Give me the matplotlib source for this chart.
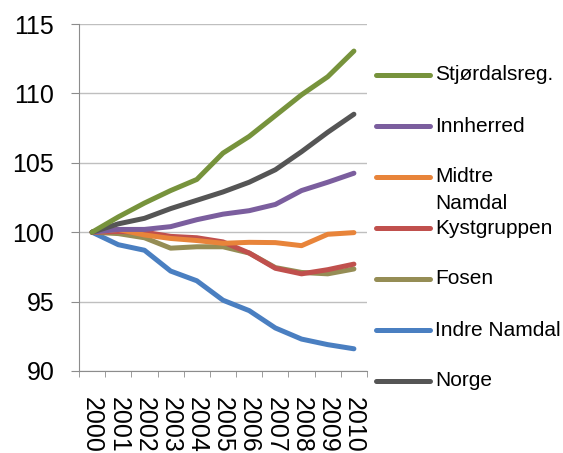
import numpy as np
import matplotlib.pyplot as plt
from matplotlib.lines import Line2D

plt.rcParams['font.family'] = ['Liberation Sans', 'DejaVu Sans']

# data
years = [str(y) for y in range(2000, 2011)]
stjordal = [100, 101.1, 102.1, 103.0, 103.8, 105.7, 106.9, 108.4, 109.9, 111.2, 113.05]
innherred = [100, 100.2, 100.2, 100.4, 100.9, 101.3, 101.55, 102.0, 103.0, 103.6, 104.25]
midtre = [100, 100.2, 99.8, 99.55, 99.4, 99.2, 99.27, 99.25, 99.03, 99.85, 99.97]
kyst = [100, 100.05, 100.0, 99.7, 99.6, 99.3, 98.5, 97.4, 97.0, 97.3, 97.7]
fosen = [100, 99.9, 99.6, 98.85, 98.95, 98.95, 98.5, 97.45, 97.1, 97.0, 97.35]
indre = [100, 99.1, 98.7, 97.2, 96.5, 95.1, 94.35, 93.1, 92.3, 91.9, 91.6]
norge = [100, 100.6, 101.0, 101.7, 102.3, 102.9, 103.6, 104.5, 105.8, 107.2, 108.5]

names = ['Stjørdalsreg.', 'Innherred', 'Midtre\nNamdal', 'Kystgruppen',
         'Fosen', 'Indre Namdal', 'Norge']
series = [stjordal, innherred, midtre, kyst, fosen, indre, norge]
colors = ['#77933C', '#7B5E9E', '#E8843A', '#C0504D', '#958D55', '#4A7FC1', '#555555']

W, H = 563, 453
fig = plt.figure(figsize=(W / 100, H / 100), dpi=100)
ax = fig.add_axes([79 / W, 1 - 371 / H, (367 - 79) / W, (371 - 24) / H])

x = np.arange(len(years))
# draw back-to-front so green/grey sit on top like the original
for i in [5, 4, 3, 2, 1, 6, 0]:
    ax.plot(x, series[i], color=colors[i], lw=3.6, solid_capstyle='round')

ax.set_xlim(-0.5, 10.5)
ax.set_ylim(90, 115)
ax.set_yticks([90, 95, 100, 105, 110, 115])
ax.yaxis.grid(True, color='#BFBFBF', lw=1)
ax.set_axisbelow(True)
for s in ['top', 'right']:
    ax.spines[s].set_visible(False)
for s in ['left', 'bottom']:
    ax.spines[s].set_color('#8C8C8C')
ax.tick_params(axis='y', labelsize=18, length=5.8, color='#8C8C8C', pad=12)

ax.set_xticks(x)
ax.set_xticklabels(years, rotation=270, fontsize=18, va='top', ha='center')
ax.tick_params(axis='x', length=0, pad=18.5)
ax.set_xticks(np.arange(-0.5, 11, 1), minor=True)
ax.tick_params(axis='x', which='minor', length=4, color='#8C8C8C')

# legend on the right, drawn by hand so the two-line label sits like Excel's
y0 = 75
for i, name in enumerate(names):
    yy = 1 - (y0 + 51 * i) / H
    fig.add_artist(Line2D([376 / W, 430 / W], [yy, yy], color=colors[i], lw=3.6,
                          solid_capstyle='round', transform=fig.transFigure))
    for j, part in enumerate(name.split('\n')):
        fig.text(435 / W, yy - j * 27 / H, part, fontsize=15, va='center', ha='left')

fig.savefig('out.png', dpi=100)
